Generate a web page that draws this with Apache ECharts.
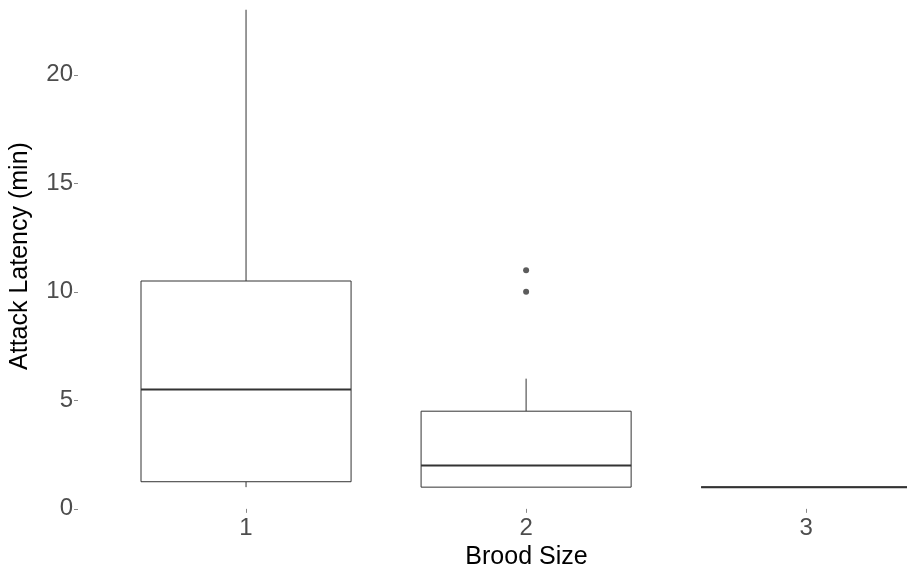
<!DOCTYPE html>
<html>
<head>
<meta charset="utf-8">
<script src="https://cdn.jsdelivr.net/npm/echarts@6/dist/echarts.min.js"></script>
<style>
  html, body { margin: 0; padding: 0; background: #fff; }
  #main { width: 907px; height: 575px; }
</style>
</head>
<body>
<div id="main"></div>
<script>
// brood size groups and box stats (min)
var categories = [1, 2, 3];
var lowerWhisker = [1.0, 1.0, 1.0];
var q1 = [1.25, 1.0, 1.0];
var median = [5.5, 2.0, 1.0];
var q3 = [10.5, 4.5, 1.0];
var upperWhisker = [23, 6, 1.0];
var outliers = [[2, 10], [2, 11]];
var yTicks = [0, 5, 10, 15, 20];

var chart = echarts.init(document.getElementById('main'));

var boxData = [];
for (var i = 0; i < categories.length; i++) {
	boxData.push([categories[i], lowerWhisker[i], q1[i], median[i], q3[i], upperWhisker[i]]);
}

var lineCol = '#333333';
var textCol = '#4d4d4d';

function renderBox(params, api) {
	var x = api.value(0);
	var half = api.size([0.75, 0])[0] / 2;
	var pLo = api.coord([x, api.value(1)]);
	var pQ1 = api.coord([x, api.value(2)]);
	var pMed = api.coord([x, api.value(3)]);
	var pQ3 = api.coord([x, api.value(4)]);
	var pHi = api.coord([x, api.value(5)]);
	var thin = { stroke: lineCol, lineWidth: 1, fill: null };
	return {
		type: 'group',
		children: [
			{ type: 'line', shape: { x1: pHi[0], y1: pHi[1], x2: pQ3[0], y2: pQ3[1] }, style: thin },
			{ type: 'line', shape: { x1: pLo[0], y1: pLo[1], x2: pQ1[0], y2: pQ1[1] }, style: thin },
			{ type: 'rect', shape: { x: pQ3[0] - half, y: pQ3[1], width: half * 2, height: pQ1[1] - pQ3[1] },
			  style: { stroke: lineCol, lineWidth: 1, fill: '#fff' } },
			{ type: 'line', shape: { x1: pMed[0] - half, y1: pMed[1], x2: pMed[0] + half, y2: pMed[1] },
			  style: { stroke: lineCol, lineWidth: 2 } }
		]
	};
}

var option = {
	animation: false,
	backgroundColor: '#fff',
	textStyle: { fontFamily: 'Liberation Sans, Arial, sans-serif' },
	grid: { left: 78, right: 0, top: 0, bottom: 60, containLabel: false },
	xAxis: {
		type: 'value',
		min: 0.4,
		max: 3.36,
		name: 'Brood Size',
		nameLocation: 'middle',
		nameGap: 30,
		// panel runs past the right edge, so push the title to its true centre
		nameTextStyle: { color: '#000', fontSize: 25, padding: [0, 0, 0, 68] },
		splitLine: { show: false },
		axisLine: { show: false },
		axisTick: { show: true, length: 4, customValues: categories, lineStyle: { color: '#888' } },
		axisLabel: { customValues: categories, color: textCol, fontSize: 24, margin: 4 }
	},
	yAxis: {
		type: 'value',
		min: -0.15,
		max: 23.45,
		name: 'Attack Latency (min)',
		nameLocation: 'middle',
		nameGap: 45,
		nameTextStyle: { color: '#000', fontSize: 25 },
		splitLine: { show: false },
		axisLine: { show: false },
		axisTick: { show: true, length: 4, customValues: yTicks, lineStyle: { color: '#888' } },
		axisLabel: { customValues: yTicks, color: textCol, fontSize: 24, margin: 5 }
	},
	series: [
		{
			type: 'custom',
			renderItem: renderBox,
			encode: { x: 0, y: [1, 2, 3, 4, 5] },
			data: boxData,
			silent: true
		},
		{
			type: 'scatter',
			data: outliers,
			symbol: 'circle',
			symbolSize: 6,
			itemStyle: { color: lineCol },
			silent: true
		}
	]
};
chart.setOption(option);
</script>
</body>
</html>
